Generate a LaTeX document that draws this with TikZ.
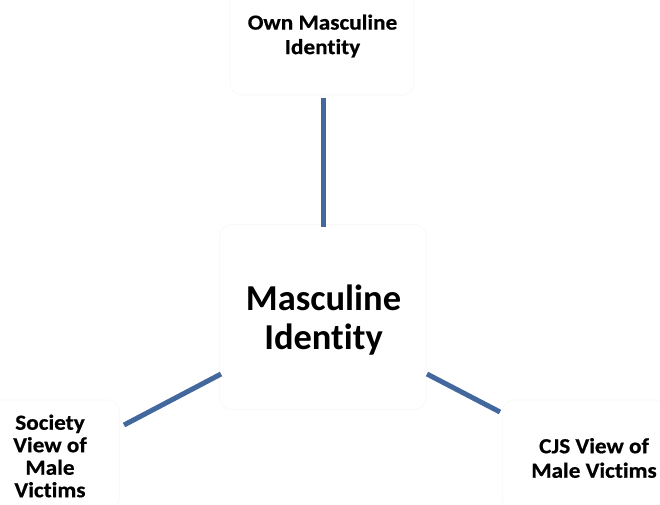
\documentclass[tikz,border=0pt]{standalone}
\usepackage{fontspec}
\setmainfont[Ligatures=NoCommon]{Carlito}
\newfontfamily\widefont[Ligatures=NoCommon,FakeStretch=1.08,FakeBold=0.6]{Carlito Bold}
\definecolor{linkblue}{RGB}{66,104,158}
\definecolor{faintbox}{RGB}{249,249,249}
\begin{document}
\begin{tikzpicture}[x=1pt,y=-1pt,
  ghost/.style={draw=faintbox, rounded corners=12pt, line width=0.8pt},
  lbl/.style={align=center, inner sep=0pt, font=\widefont\fontsize{21.5}{24.5}\selectfont},
  biglbl/.style={align=center, inner sep=0pt, font=\bfseries\fontsize{36.5}{39}\selectfont},
  link/.style={draw=linkblue, line width=5pt}]
\useasboundingbox[fill=white] (0,0) rectangle (660,504);
% faint boxes
\node[ghost, minimum width=184pt, minimum height=110pt] (topbox) at (322,40) {};
\node[ghost, minimum width=207pt, minimum height=185pt] (cbox) at (323,317) {};
\node[ghost, minimum width=135pt, minimum height=110pt] (lbox) at (52,455) {};
\node[ghost, minimum width=165pt, minimum height=110pt] (rbox) at (585,455) {};
% texts
\node[lbl] (top) at (322.5,36) {Own Masculine\\Identity};
\node[biglbl] (center) at (323.5,320) {Masculine\\Identity};
\node[lbl, font=\widefont\fontsize{21.5}{22.5}\selectfont] (left) at (50,456) {Society\\View of\\Male\\Victims};
\node[lbl] (right) at (594,458) {CJS View of\\Male Victims};
% connector end points
\coordinate (t1) at (323,98);
\coordinate (t2) at (323,227);
\coordinate (l1) at (221,374);
\coordinate (l2) at (124,425);
\coordinate (r1) at (427,374);
\coordinate (r2) at (500,412);
\draw[link] (t1) -- (t2);
\draw[link] (l1) -- (l2);
\draw[link] (r1) -- (r2);
\end{tikzpicture}
\end{document}
